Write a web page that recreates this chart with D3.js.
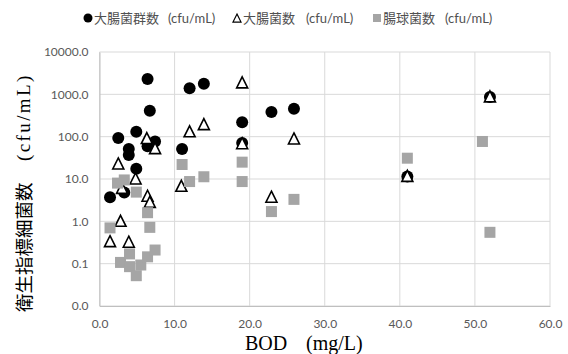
<!DOCTYPE html>
<html><head><meta charset="utf-8">
<script src="https://cdn.jsdelivr.net/npm/d3@7"></script>
<style>body{margin:0;background:#fff}svg{display:block}</style>
</head><body>
<svg id="c" width="568" height="354"></svg>
<script>
const coliformX = [1.4,2.5,3.3,3.9,3.9,4.9,4.9,6.4,6.4,6.7,7.4,11.0,12.0,13.9,19.0,19.0,22.9,25.9,41.0,52.0];
const coliformY = [3.7,93,4.8,51,37,130,17.5,2300,59,410,77,51,1400,1780,218,71,383,458,11.5,870];
const ecoliX = [1.4,2.5,2.8,3.0,3.9,4.8,6.3,6.4,6.7,7.4,10.9,12.0,13.9,19.0,19.0,22.9,25.9,41.0,52.0];
const ecoliY = [0.33,22.6,1.0,6.0,0.32,10,90,3.9,2.8,52,6.7,130,192,1860,68,3.7,88,11.5,870];
const enteroX = [1.4,2.4,2.8,3.3,4.0,4.0,4.9,4.9,5.5,6.4,6.4,6.7,7.4,11.0,12.0,13.9,19.0,19.0,22.9,25.9,41.0,51.0,52.0];
const enteroY = [0.70,8.0,0.107,9.5,0.17,0.085,4.9,0.052,0.093,1.6,0.145,0.72,0.21,22,8.7,11.3,25,8.7,1.7,3.3,31,77,0.55];
const xTicks = [0,10,20,30,40,50,60];
const yTicks = [0.01,0.1,1,10,100,1000,10000];
const seriesNames = ["大腸菌群数","大腸菌数","腸球菌数"];
const unitLabel = "(cfu/mL)";
const xTitle = ["BOD","(mg/L)"];
const yTitle = ["衛生指標細菌数","(cfu/mL)"];

const svg = d3.select("#c");
const L = 99.5, R = 550, T = 52, B = 306;
const x = d3.scaleLinear().domain([0,60]).range([L,R]);
const y = d3.scaleLog().domain([0.01,10000]).range([B,T]);
const grid = "#d9d9d9", tickCol = "#595959";
const tickFont = "Lato, 'Open Sans', sans-serif";

// grid
svg.append("g").selectAll("line.h").data(yTicks).join("line")
  .attr("x1",L).attr("x2",R).attr("y1",d=>y(d)).attr("y2",d=>y(d))
  .attr("stroke",grid).attr("stroke-width",1);
svg.append("g").selectAll("line.v").data(xTicks).join("line")
  .attr("y1",T).attr("y2",B).attr("x1",d=>x(d)).attr("x2",d=>x(d))
  .attr("stroke",grid).attr("stroke-width",1);

// axes
const xa = svg.append("g").attr("transform",`translate(0,${B})`)
  .call(d3.axisBottom(x).tickValues(xTicks).tickFormat(d=>d.toFixed(1)).tickSize(0).tickPadding(13));
const ya = svg.append("g").attr("transform",`translate(${L},0)`)
  .call(d3.axisLeft(y).tickValues(yTicks).tickFormat(d=>d.toFixed(1)).tickSize(0).tickPadding(11));
[xa,ya].forEach(a=>{
  a.select(".domain").attr("stroke","#bfbfbf");
  a.selectAll("text").attr("fill",tickCol).style("font-family",tickFont).style("font-size","12px");
});

// markers
const pts = (xs,ys)=>xs.map((v,i)=>({x:v,y:ys[i]}));
svg.append("g").selectAll("circle").data(pts(coliformX,coliformY)).join("circle")
  .attr("cx",d=>x(d.x)).attr("cy",d=>y(d.y)).attr("r",6).attr("fill","#000");
const tri = (cx,cy,s)=>`M${cx},${cy-s*0.55}L${cx+s/2},${cy+s*0.45}L${cx-s/2},${cy+s*0.45}Z`;
svg.append("g").selectAll("path").data(pts(ecoliX,ecoliY)).join("path")
  .attr("d",d=>tri(x(d.x),y(d.y),11)).attr("fill","#fff").attr("stroke","#000").attr("stroke-width",1.6);
svg.append("g").selectAll("rect").data(pts(enteroX,enteroY)).join("rect")
  .attr("x",d=>x(d.x)-5.5).attr("y",d=>y(d.y)-5.5).attr("width",11).attr("height",11).attr("fill","#a5a5a5");

// legend
const lg = svg.append("g");
const lgY = 18;
const cjk = "'Noto Sans CJK JP', sans-serif";
const items = [{mx:88, tx:94, ux:168},{mx:237, tx:243, ux:306},{mx:377, tx:383, ux:445}];
lg.append("circle").attr("cx",items[0].mx).attr("cy",lgY).attr("r",4.5).attr("fill","#000");
lg.append("path").attr("d",tri(items[1].mx,lgY+0.5,8)).attr("fill","#fff").attr("stroke","#000").attr("stroke-width",1.2);
lg.append("rect").attr("x",items[2].mx-4).attr("y",lgY-4).attr("width",8).attr("height",8).attr("fill","#a5a5a5");
items.forEach((it,i)=>{
  lg.append("text").attr("x",it.tx).attr("y",lgY+5).text(seriesNames[i])
    .attr("fill","#505050").style("font-family",cjk).style("font-size","13px");
  lg.append("text").attr("x",it.ux).attr("y",lgY+5).text(unitLabel)
    .attr("fill","#505050").style("font-family",tickFont).style("font-size","13px");
});

// axis titles
const serif = "'Liberation Serif', 'DejaVu Serif', serif";
svg.append("text").attr("x",245).attr("y",350).text(xTitle[0])
  .attr("fill","#000").style("font-family",serif).style("font-size","20px");
svg.append("text").attr("x",306).attr("y",350).text(xTitle[1])
  .attr("fill","#000").style("font-family",serif).style("font-size","20px");

svg.append("text").attr("transform","translate(31,312) rotate(-90)").text(yTitle[0])
  .attr("fill","#000").style("font-family",cjk).style("font-size","18.5px");
svg.append("text").attr("transform","translate(30,161) rotate(-90)").text(yTitle[1])
  .attr("fill","#000").style("font-family",serif).style("font-size","19px").attr("letter-spacing","2.4px");
</script>
</body></html>
